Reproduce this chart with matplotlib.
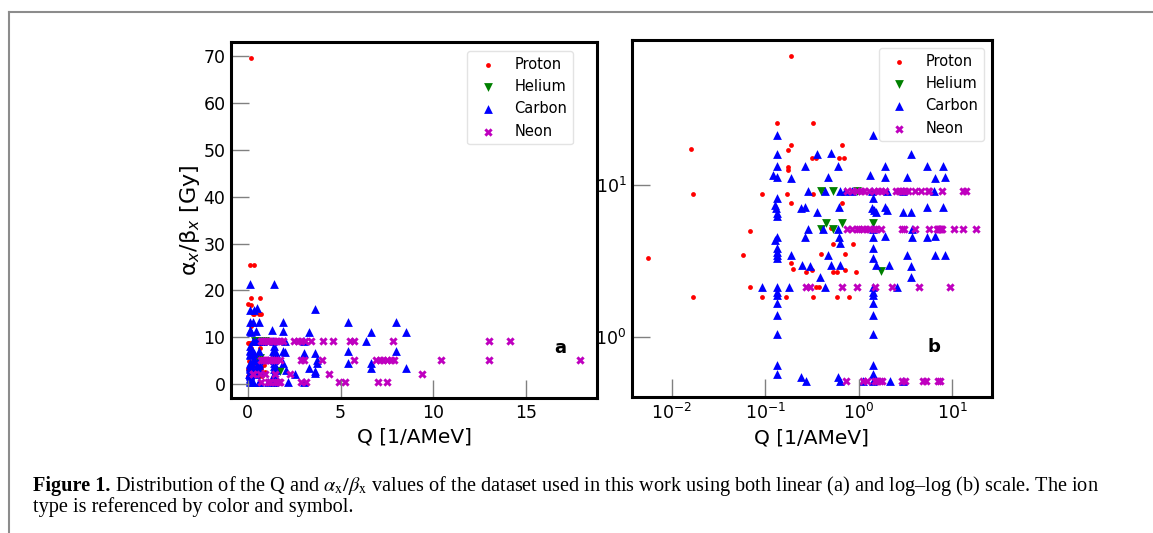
import matplotlib
matplotlib.use('Agg')
import matplotlib.pyplot as plt
from matplotlib.lines import Line2D

# ---------------- data ----------------
proton_q = [0.19, 0.016, 0.017, 0.0056, 0.017, 0.133, 0.328, 0.19, 0.175, 0.175,
            0.175, 0.315, 0.35, 0.61, 0.70, 0.66, 0.17, 0.093, 0.325, 0.19,
            0.67, 0.069, 0.058, 0.069, 0.093, 0.166, 0.328, 0.59, 0.79, 0.19,
            0.20, 0.276, 0.315, 0.53, 0.59, 0.71, 0.93, 0.53, 0.875, 0.40,
            0.71, 0.35, 0.38, 0.50]
proton_ratio = [69.5, 17.1, 8.7, 3.3, 1.83, 25.4, 25.4, 18.3, 16.8, 13.1,
                12.5, 15.0, 15.0, 15.0, 15.0, 18.3, 8.7, 8.7, 8.7, 7.65,
                7.65, 5.0, 3.47, 2.15, 1.83, 1.83, 1.83, 1.83, 1.83, 3.06,
                2.8, 2.7, 2.77, 2.7, 2.7, 2.77, 2.7, 4.08, 4.08, 3.5,
                3.5, 2.13, 2.13, 5.2]

helium_q = [0.40, 0.53, 0.95, 0.40, 0.45, 0.53, 0.67, 1.44, 1.74]
helium_ratio = [9.14, 9.14, 9.14, 5.1, 5.6, 5.1, 5.6, 5.6, 2.74]

carbon_q = [0.133, 1.44,
            0.133, 0.36, 0.50, 3.62,
            0.133, 0.269, 0.60, 1.9, 5.39, 8.0,
            0.121, 0.133, 0.187, 0.47, 1.32, 1.9, 3.28, 6.62, 8.5,
            0.288, 0.436, 0.63, 0.72, 0.85, 1.38, 2.0, 3.02, 6.35,
            0.133, 1.44,
            0.126, 0.130, 0.133, 0.133, 0.244, 0.265, 0.36, 0.617, 1.38, 1.46,
            1.52, 1.9, 2.0, 3.02, 3.62, 5.39, 8.0,
            0.288, 0.417, 0.60, 1.44, 3.72,
            0.133, 0.126, 0.265, 0.617, 1.44, 1.9, 3.72, 5.39, 6.62,
            0.133, 0.133, 0.133, 0.133, 0.187, 0.47, 0.63, 1.44, 1.44, 3.28,
            6.62, 8.5,
            0.25, 0.305, 0.384, 0.50, 0.63, 1.52, 2.09, 3.62, 3.62,
            0.093, 0.133, 0.133, 0.133, 0.18, 0.436, 1.44, 1.44, 1.44, 2.56,
            0.133, 0.133, 0.133, 1.44, 1.44, 1.44,
            0.133, 0.133, 1.44, 1.44,
            0.244, 0.27, 0.60, 0.63, 1.12, 1.44, 2.17, 3.02]
carbon_ratio = [21.3, 21.3,
                15.9, 15.9, 16.2, 16.0,
                13.2, 13.2, 13.2, 13.2, 13.2, 13.2,
                11.6, 11.3, 11.1, 11.3, 11.6, 11.3, 11.2, 11.1, 11.2,
                9.13, 9.13, 9.13, 9.13, 9.13, 9.13, 9.13, 9.13, 9.13,
                8.17, 8.17,
                7.39, 7.03, 6.52, 6.2, 7.03, 7.16, 6.68, 7.16, 7.03, 6.85,
                6.68, 7.16, 6.85, 6.68, 6.68, 7.16, 7.16,
                5.12, 5.12, 5.12, 5.12, 5.12,
                4.52, 4.35, 4.52, 4.52, 4.52, 4.6, 4.52, 4.52, 4.6,
                3.84, 3.65, 3.47, 3.3, 3.47, 3.47, 4.18, 3.84, 3.3, 3.47,
                3.47, 3.47,
                2.98, 2.92, 2.5, 2.98, 2.98, 2.98, 2.98, 2.92, 2.5,
                2.14, 2.14, 1.99, 1.9, 2.14, 2.14, 2.14, 1.99, 1.9, 2.14,
                1.67, 1.4, 1.06, 1.67, 1.4, 1.06,
                0.66, 0.58, 0.66, 0.58,
                0.55, 0.52, 0.55, 0.52, 0.52, 0.52, 0.52, 0.52]

neon_q = [0.75, 0.85, 0.95, 1.05, 1.15, 1.3, 1.45, 1.6, 1.75, 1.9,
          2.5, 2.7, 2.9, 3.1, 3.4, 4.05, 4.6, 5.5, 5.7, 7.8, 13.0, 14.1,
          0.75, 0.85, 0.95, 1.0, 1.1, 1.2, 1.3, 1.45, 1.55, 1.75,
          2.9, 3.05, 4.0, 5.7, 6.9, 7.1, 7.3, 7.5, 7.7, 7.9, 10.4, 13.0, 17.9,
          0.276, 0.30, 0.66, 0.95, 1.5, 2.26, 4.4, 9.4,
          0.74, 1.12, 1.22, 1.5, 1.57, 1.7, 1.77, 2.9, 3.15, 4.9, 5.25, 7.0, 7.5]
neon_ratio = [9.13, 9.13, 9.13, 9.13, 9.13, 9.13, 9.13, 9.13, 9.13, 9.13,
              9.13, 9.13, 9.13, 9.13, 9.13, 9.13, 9.13, 9.13, 9.13, 9.13, 9.13, 9.13,
              5.1, 5.1, 5.1, 5.1, 5.1, 5.1, 5.1, 5.1, 5.1, 5.1,
              5.1, 5.1, 5.1, 5.1, 5.1, 5.1, 5.1, 5.1, 5.1, 5.1, 5.1, 5.1, 5.1,
              2.13, 2.13, 2.13, 2.13, 2.13, 2.13, 2.13, 2.13,
              0.52, 0.52, 0.52, 0.52, 0.52, 0.52, 0.52, 0.52, 0.52, 0.52, 0.52, 0.52, 0.52]

ion_names = ["Proton", "Helium", "Carbon", "Neon"]
x_label = "Q [1/AMeV]"
y_label = "α$_x$/β$_x$ [Gy]"
panel_letters = ["a", "b"]
caption_bold = "Figure 1."
caption_line1 = (r"Distribution of the Q and $\alpha_{\mathrm{x}}/\beta_{\mathrm{x}}$ values of the dataset "
                 r"used in this work using both linear (a) and log–log (b) scale. The ion")
caption_line2 = "type is referenced by color and symbol."

# ---------------- figure ----------------
W, H = 1153, 533
fig = plt.figure(figsize=(W / 100, H / 100), dpi=100)
fig.patch.set_facecolor('white')


def px_axes(l, t, r, b):
    return [l / W, 1 - b / H, (r - l) / W, (b - t) / H]


ax1 = fig.add_axes(px_axes(231, 42, 597, 398))
ax2 = fig.add_axes(px_axes(632, 40, 992, 397))

styles = [
    dict(marker='o', s=12, color='red'),
    dict(marker='v', s=40, color='green'),
    dict(marker='^', s=40, color='blue'),
    dict(marker='X', s=36, color='m'),
]
data = [(proton_q, proton_ratio), (helium_q, helium_ratio),
        (carbon_q, carbon_ratio), (neon_q, neon_ratio)]

for ax in (ax1, ax2):
    for name, (q, r), st in zip(ion_names, data, styles):
        ax.scatter(q, r, label=name, linewidths=0, **st)

ax2.set_xscale('log')
ax2.set_yscale('log')
ax2.minorticks_off()

for ax in (ax1, ax2):
    ax.tick_params(which='major', direction='in', length=13, width=1.0,
                   color='#808080', labelsize=12.5, pad=4)
    for sp in ax.spines.values():
        sp.set_linewidth(2.2)
        sp.set_color('black')
    ax.set_xlabel(x_label, fontsize=14.5, labelpad=4)

ax1.set_ylabel(y_label, fontsize=16, labelpad=1)

ax1.legend(loc='upper right', bbox_to_anchor=(0.934, 0.975), borderaxespad=0,
           fontsize=10.5, edgecolor='#dddddd')
ax2.legend(loc='upper right', bbox_to_anchor=(0.978, 0.978), borderaxespad=0,
           fontsize=10.5, edgecolor='#dddddd')

ax1.text(0.90, 0.14, panel_letters[0], transform=ax1.transAxes, fontsize=13,
         fontweight='bold', ha='center', va='center')
ax2.text(0.84, 0.14, panel_letters[1], transform=ax2.transAxes, fontsize=13,
         fontweight='bold', ha='center', va='center')

# page frame lines
fig.add_artist(Line2D([9 / W, 9 / W], [0, 1 - 12 / H], transform=fig.transFigure,
                      color='#8c8c8c', lw=1.5))
fig.add_artist(Line2D([9 / W, 1], [1 - 12 / H, 1 - 12 / H], transform=fig.transFigure,
                      color='#8c8c8c', lw=1.5))

# caption: fit first line to the reference width
cap_family = 'Liberation Serif'
x0_px, x1_px = 33, 1102
y1 = 1 - 491 / H
y2 = 1 - 512 / H
renderer = fig.canvas.get_renderer()


def draw_caption(fs):
    tb = fig.text(x0_px / W, y1, caption_bold, fontsize=fs, fontweight='bold',
                  family=cap_family, va='baseline')
    bb = tb.get_window_extent(renderer)
    t1 = fig.text((bb.x1 + 0.3 * fs) / W, y1, caption_line1, fontsize=fs,
                  family=cap_family, va='baseline', math_fontfamily='stix')
    t2 = fig.text(x0_px / W, y2, caption_line2, fontsize=fs,
                  family=cap_family, va='baseline')
    return [tb, t1, t2], t1.get_window_extent(renderer).x1


fs0 = 12.5
texts, right = draw_caption(fs0)
for t in texts:
    t.remove()
fs = fs0 * (x1_px - x0_px) / (right - x0_px)
draw_caption(fs)

fig.savefig('out.png', dpi=100)
